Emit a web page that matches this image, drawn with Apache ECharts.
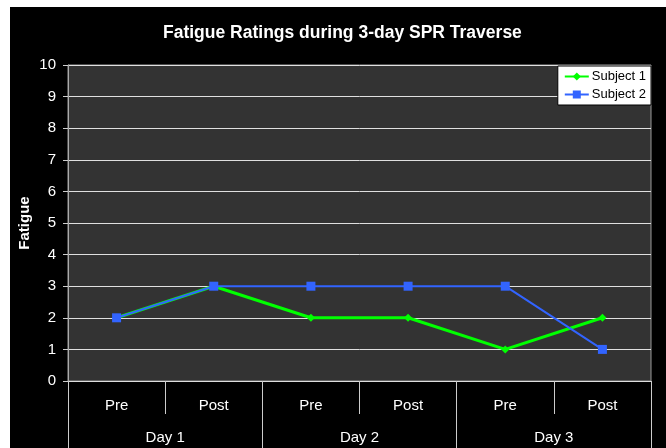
<!DOCTYPE html>
<html>
<head>
<meta charset="utf-8">
<script src="https://cdn.jsdelivr.net/npm/echarts@6/dist/echarts.min.js"></script>
<style>
  html, body { margin: 0; padding: 0; background: #fff; }
  #chart { position: absolute; left: 10px; top: 7px; width: 656px; height: 441px; background: #000; }
</style>
</head>
<body>
<div id="chart"></div>
<script>
// data
const phases = ["Pre", "Post", "Pre", "Post", "Pre", "Post"];
const days = ["Day 1", "Day 2", "Day 3"];
const subject1 = [2, 3, 2, 2, 1, 2];
const subject2 = [2, 3, 3, 3, 3, 1];

const font = "'Liberation Sans', Arial, sans-serif";
const chart = echarts.init(document.getElementById("chart"));

const option = {
  backgroundColor: "#000",
  textStyle: { fontFamily: font },
  title: {
    text: "Fatigue Ratings during 3-day SPR Traverse",
    left: 148,
    top: 12,
    textStyle: { color: "#fff", fontSize: 17.5, fontWeight: "bold", fontFamily: font },
  },
  legend: {
    orient: "vertical",
    right: 15,
    top: 59,
    backgroundColor: "#fff",
    borderColor: "#000",
    borderWidth: 1,
    padding: [4, 5, 4, 6],
    itemGap: 5,
    itemWidth: 24,
    itemHeight: 10,
    textStyle: { color: "#000", fontSize: 13, fontFamily: font, padding: [0, 0, 0, -2] },
    data: ["Subject 1", "Subject 2"],
  },
  grid: {
    show: true,
    left: 58,
    top: 58,
    right: 15,
    bottom: 67,
    outerBoundsMode: "none",
    containLabel: false,
    backgroundColor: "#333333",
    borderColor: "#999",
    borderWidth: 1,
  },
  xAxis: [
    {
      type: "category",
      data: phases,
      position: "bottom",
      axisLine: { show: true, lineStyle: { color: "#ddd", width: 1 } },
      axisTick: { show: true, interval: 0, length: 33, lineStyle: { color: "#ccc" } },
      axisLabel: { color: "#fff", fontSize: 15, margin: 17, interval: 0 },
      splitLine: { show: false },
    },
    {
      type: "category",
      data: days,
      position: "bottom",
      offset: 33,
      axisLine: { show: false },
      axisTick: { show: true, interval: 0, length: 34, lineStyle: { color: "#ccc" } },
      axisLabel: { color: "#fff", fontSize: 15, margin: 16, interval: 0 },
    },
  ],
  yAxis: {
    type: "value",
    min: 0,
    max: 10,
    interval: 1,
    name: "Fatigue",
    nameLocation: "middle",
    nameRotate: 90,
    nameGap: 36,
    nameMoveOverlap: false,
    nameTextStyle: { color: "#fff", fontSize: 15, fontWeight: "bold", fontFamily: font },
    axisLine: { show: true, lineStyle: { color: "#aaa" } },
    axisTick: { show: true, length: 5, lineStyle: { color: "#ccc" } },
    axisLabel: { color: "#fff", fontSize: 15, margin: 12 },
    splitLine: { lineStyle: { color: "#e0e0e0", width: 1 } },
  },
  series: [
    {
      name: "Subject 1",
      type: "line",
      data: subject1,
      xAxisIndex: 0,
      symbol: "diamond",
      symbolSize: 8,
      lineStyle: { color: "#00ff00", width: 3 },
      itemStyle: { color: "#00ff00" },
      z: 2,
    },
    {
      name: "Subject 2",
      type: "line",
      data: subject2,
      xAxisIndex: 0,
      symbol: "rect",
      symbolSize: 9,
      lineStyle: { color: "#3264ff", width: 2 },
      itemStyle: { color: "#3264ff" },
      z: 3,
    },
  ],
};

chart.setOption(option);
</script>
</body>
</html>
